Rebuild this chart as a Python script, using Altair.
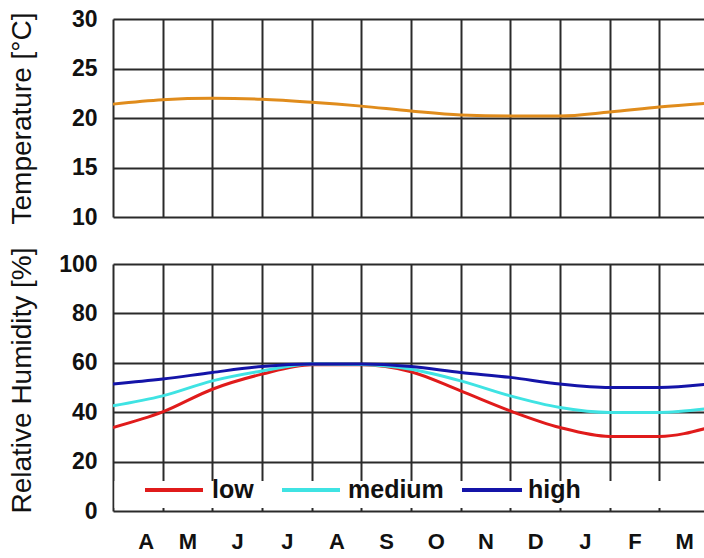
import json

import altair as alt
import pandas as pd

# Month letters, April through March; curve values sit on month boundaries 0..12
MONTHS = ["A", "M", "J", "J", "A", "S", "O", "N", "D", "J", "F", "M"]
BOUNDARY = list(range(13))
TEMPERATURE = [21.4, 21.85, 22.0, 21.9, 21.6, 21.2, 20.7, 20.3, 20.2, 20.2, 20.6, 21.1, 21.5]
RH_LOW = [33.8, 40.1, 49.3, 55.4, 59.2, 59.2, 56.4, 48.6, 40.5, 33.8, 30.2, 30.2, 33.8]
RH_MEDIUM = [42.6, 46.6, 52.7, 56.7, 59.5, 59.3, 57.4, 52.7, 46.6, 41.9, 39.9, 39.9, 41.5]
RH_HIGH = [51.4, 53.4, 56.1, 58.5, 59.5, 59.5, 58.5, 56.1, 54.1, 51.4, 50.0, 50.0, 51.4]
SERIES = ["low", "medium", "high"]

TEMP_TICKS = [10, 15, 20, 25, 30]
RH_TICKS = [0, 20, 40, 60, 80, 100]

COLORS = {"low": "#e01b1b", "medium": "#3fe3e3", "high": "#1414a8"}
TEMP_COLOR = "#e08c1c"
GRID = "#2a2a2a"
FONT = "Liberation Sans"

W = 591
H_TOP = 198
H_BOT = 247

temp_df = pd.DataFrame({"m": BOUNDARY, "t": TEMPERATURE})
rh_df = pd.concat(
    [
        pd.DataFrame({"m": BOUNDARY, "rh": vals, "series": name})
        for name, vals in zip(SERIES, [RH_LOW, RH_MEDIUM, RH_HIGH])
    ],
    ignore_index=True,
)

# The visible window ends just short of the end of March
X_END = 11.9
x_scale = alt.Scale(domain=[0, X_END], nice=False, zero=False)
month_px = W / X_END
month_expr = json.dumps(MONTHS) + "[datum.value]"


def y_axis(title, ticks, title_y):
    return alt.Axis(
        values=ticks,
        title=title,
        grid=True,
        gridColor=GRID,
        gridWidth=2,
        gridOpacity=1,
        domain=False,
        ticks=False,
        labelFont=FONT,
        labelFontSize=23,
        labelFontWeight="bold",
        labelColor="#111",
        labelPadding=16,
        titleFont=FONT,
        titleFontSize=28,
        titleFontWeight="normal",
        titleColor="#111",
        titleX=-77,
        titleY=title_y,
    )


# Temperature panel
top = (
    alt.Chart(temp_df)
    .mark_line(color=TEMP_COLOR, strokeWidth=3, interpolate="monotone", clip=True)
    .encode(
        x=alt.X(
            "m:Q",
            scale=x_scale,
            axis=alt.Axis(
                values=list(range(12)),
                labels=False,
                ticks=False,
                domain=False,
                title=None,
                grid=True,
                gridColor=GRID,
                gridWidth=2,
                gridOpacity=1,
            ),
        ),
        y=alt.Y(
            "t:Q",
            scale=alt.Scale(domain=[10, 30], nice=False, zero=False),
            axis=y_axis("Temperature [°C]", TEMP_TICKS, H_TOP / 2),
        ),
    )
    .properties(width=W, height=H_TOP)
)

# Relative humidity panel
rh_lines = (
    alt.Chart(rh_df)
    .mark_line(strokeWidth=3, interpolate="monotone", clip=True)
    .encode(
        x=alt.X(
            "m:Q",
            scale=x_scale,
            axis=alt.Axis(
                values=list(range(12)),
                labelExpr=month_expr,
                labelOffset=month_px / 2,
                labelPadding=20,
                labelFont=FONT,
                labelFontSize=22,
                labelFontWeight="bold",
                labelColor="#111",
                ticks=False,
                domain=False,
                title=None,
                grid=True,
                gridColor=GRID,
                gridWidth=2,
                gridOpacity=1,
            ),
        ),
        y=alt.Y(
            "rh:Q",
            scale=alt.Scale(domain=[0, 100], nice=False, zero=False),
            axis=y_axis("Relative Humidity [%]", RH_TICKS, 116),
        ),
        color=alt.Color(
            "series:N",
            scale=alt.Scale(domain=SERIES, range=[COLORS[s] for s in SERIES]),
            legend=None,
        ),
        detail="series:N",
    )
)

# White band behind the in-plot legend
band = (
    alt.Chart(pd.DataFrame({"k": [0]}))
    .mark_rect(color="white")
    .encode(
        x=alt.value(1.5),
        x2=alt.value(W),
        y=alt.value(217),
        y2=alt.value(244),
    )
)

# Legend entries: swatch start/end and label start, in pixels
SWATCH_X0 = [32, 169, 349]
SWATCH_X1 = [90, 227, 409]
LABEL_X = [99, 235, 415]
LEGEND_Y = 226

legend_layers = []
for name, x0, x1, lx in zip(SERIES, SWATCH_X0, SWATCH_X1, LABEL_X):
    key = pd.DataFrame({"series": [name]})
    legend_layers.append(
        alt.Chart(key)
        .mark_rule(color=COLORS[name], strokeWidth=4)
        .encode(x=alt.value(x0), x2=alt.value(x1), y=alt.value(LEGEND_Y))
    )
    legend_layers.append(
        alt.Chart(key)
        .mark_text(
            align="left",
            baseline="middle",
            font=FONT,
            fontSize=25,
            fontWeight="bold",
            color="#111",
        )
        .encode(x=alt.value(lx), y=alt.value(LEGEND_Y), text="series:N")
    )

bottom = alt.layer(rh_lines, band, *legend_layers).properties(width=W, height=H_BOT)

chart = (
    alt.vconcat(top, bottom, spacing=47, bounds="flush")
    .properties(padding={"left": 7, "top": 8, "right": 0, "bottom": 0}, background="white")
    .configure_view(stroke=None)
)

chart.save("out.html", embed_options={"renderer": "svg", "actions": False})
